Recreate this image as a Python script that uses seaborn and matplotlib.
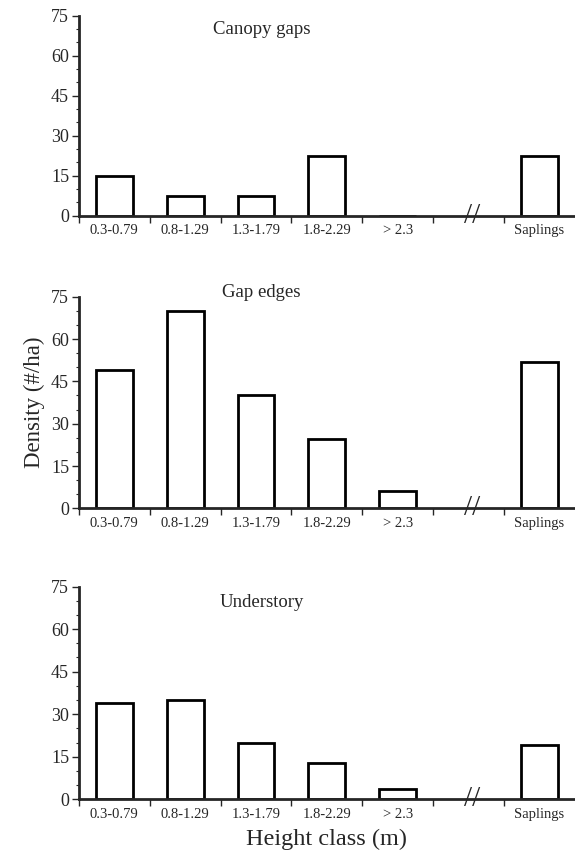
import numpy as np
import pandas as pd
import seaborn as sns
import matplotlib.pyplot as plt
from matplotlib.ticker import MultipleLocator, FixedLocator

# height classes (empty slot before saplings holds the axis break)
classes = ['0.3-0.79', '0.8-1.29', '1.3-1.79', '1.8-2.29', '> 2.3', 'gap', 'Saplings']
tick_labels = ['0.3-0.79', '0.8-1.29', '1.3-1.79', '1.8-2.29', '> 2.3', '', 'Saplings']
bar_classes = ['0.3-0.79', '0.8-1.29', '1.3-1.79', '1.8-2.29', '> 2.3', 'Saplings']

canopy_gaps = [15, 7.5, 7.5, 22.5, 0, 22.5]
gap_edges = [49, 70, 40, 24.5, 6, 52]
understory = [34, 35, 20, 12.7, 3.5, 19]

panel_names = ['Canopy gaps', 'Gap edges', 'Understory']
panel_vals = [canopy_gaps, gap_edges, understory]
title_y = [70, 76.5, 69.5]
title_x = [1.39, 1.52, 1.48]

sns.set_style('ticks')
plt.rcParams['font.family'] = ['Liberation Serif', 'DejaVu Serif']

fig = plt.figure(figsize=(5.75, 8.61), dpi=100)
boxes = [[0.137, 0.7495, 0.863, 0.2323],
         [0.137, 0.4096, 0.863, 0.2458],
         [0.137, 0.0717, 0.863, 0.2470]]

for i in range(3):
    ax = fig.add_axes(boxes[i])
    df = pd.DataFrame({'cls': bar_classes, 'dens': panel_vals[i]})
    sns.barplot(data=df, x='cls', y='dens', order=classes, ax=ax,
                color='white', edgecolor='black', linewidth=2, width=0.52)
    ax.set_xlim(-0.5, 6.5)
    ax.set_ylim(0, 75)
    ax.set_yticks([0, 15, 30, 45, 60, 75])
    ax.yaxis.set_minor_locator(MultipleLocator(5))
    ax.tick_params(axis='y', which='major', length=5, width=1, labelsize=13, pad=2)
    ax.tick_params(axis='y', which='minor', length=2.5, width=0.8)
    ax.set_xticks(range(len(classes)))
    ax.set_xticklabels(tick_labels)
    ax.xaxis.set_minor_locator(FixedLocator(np.arange(-0.5, 6, 1)))
    ax.tick_params(axis='x', which='major', length=0, labelsize=10.5, pad=6)
    ax.tick_params(axis='x', which='minor', length=5, width=1)
    sns.despine(ax=ax)
    ax.spines['left'].set_linewidth(2)
    ax.spines['bottom'].set_linewidth(2)
    ax.set_xlabel('')
    ax.set_ylabel('')
    ax.text(title_x[i], title_y[i], panel_names[i], fontsize=13.5, va='center', ha='left')
    # axis break mark
    ax.text(5.05, 0, '//', fontsize=21, ha='center', va='center', clip_on=False)
    if i == 1:
        ax.set_ylabel('Density (#/ha)', fontsize=16.5, labelpad=4)
    if i == 2:
        ax.set_xlabel('Height class (m)', fontsize=17.5, labelpad=6)

fig.savefig('out.png', dpi=100)
